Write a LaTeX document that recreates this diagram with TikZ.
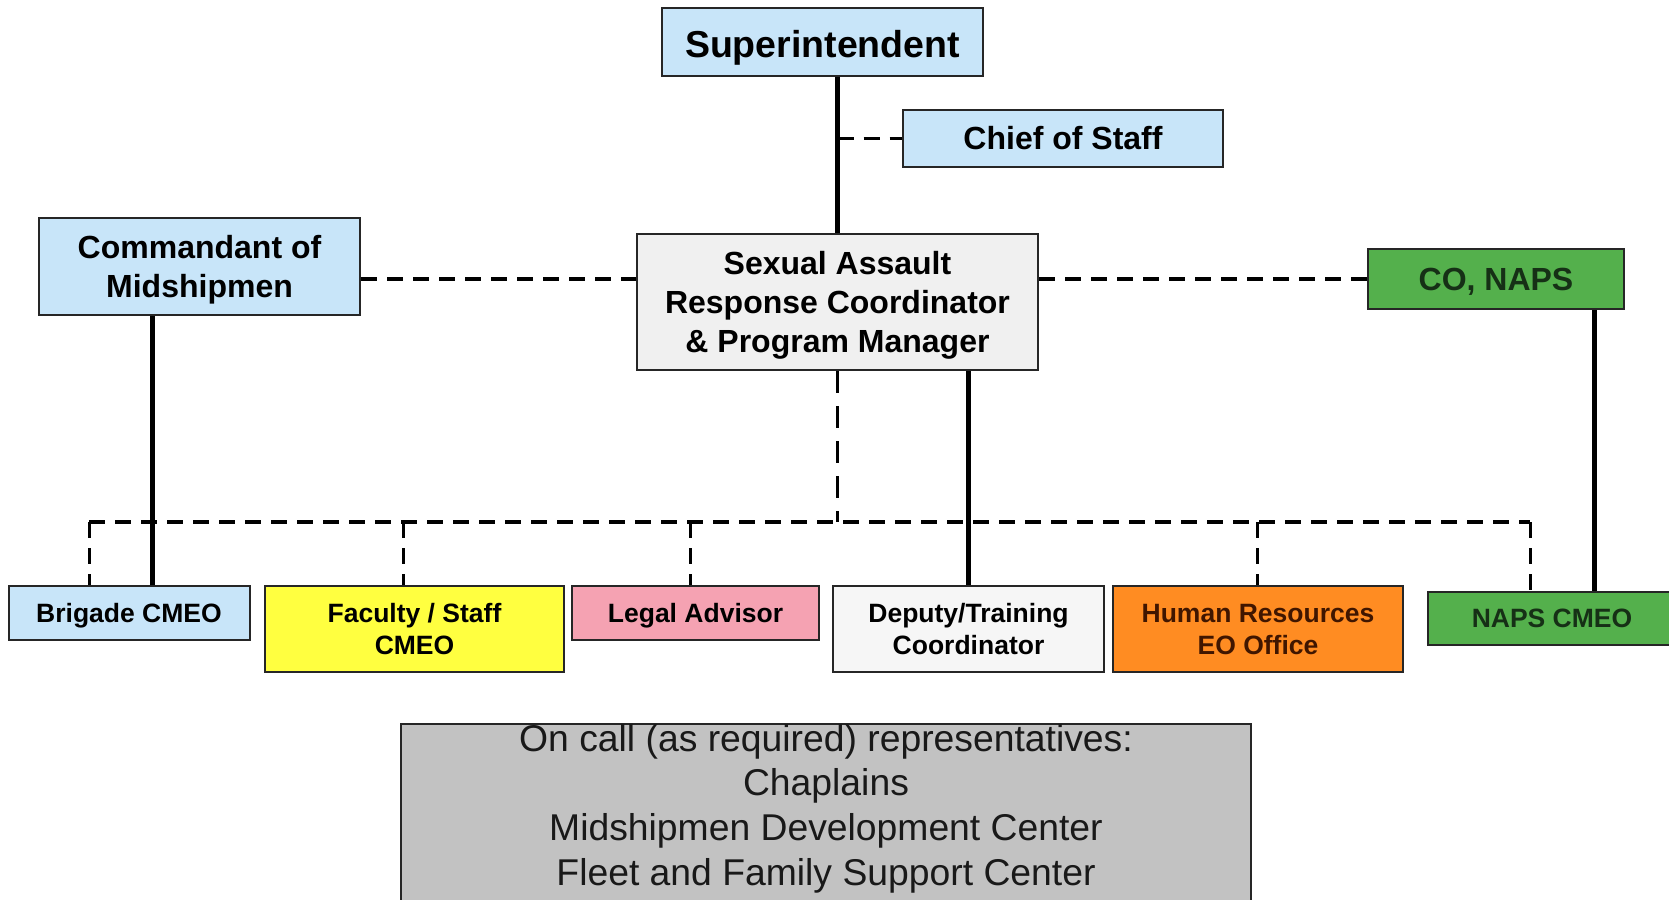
\documentclass[tikz,border=0pt]{standalone}
\usepackage{fontspec}
\setmainfont{Liberation Sans}
\usetikzlibrary{calc}

\definecolor{skyblue}{RGB}{200,229,249}
\definecolor{sarcgray}{RGB}{240,240,240}
\definecolor{lemon}{RGB}{255,255,64}
\definecolor{rose}{RGB}{245,162,178}
\definecolor{tangerine}{RGB}{255,140,34}
\definecolor{napsgreen}{RGB}{84,176,76}
\definecolor{oncallgray}{RGB}{194,194,194}
\definecolor{darkgreen}{RGB}{22,48,22}
\definecolor{darkbrown}{RGB}{64,22,0}

\begin{document}
\begin{tikzpicture}[x=1pt, y=-1pt,
  box/.style={draw=black!85, line width=2pt, align=center, inner sep=0pt},
  bigfont/.style={font=\bfseries\fontsize{32}{39}\selectfont, text depth=8.3pt, text height=31pt},
  smallfont/.style={font=\bfseries\fontsize{26.5}{32}\selectfont, text depth=6.9pt, text height=24.9pt},
  solidline/.style={line width=5pt},
  dashline/.style={line width=3.5pt, dash pattern=on 16pt off 10pt}]

\useasboundingbox (0,0) rectangle (1669,899);
\clip (0,0) rectangle (1669,899);

% top boxes
\node(super) at (822.5,42) [box, fill=skyblue, minimum width=321, minimum height=67,
  font=\bfseries\fontsize{37.5}{45}\selectfont, text depth=9.8pt, text height=40pt]{Superintendent};
\node(chief) at (1063,138.5) [box, bigfont, fill=skyblue, minimum width=320, minimum height=57]{Chief of Staff};
\node(comdt) at (199.5,266.5) [box, bigfont, text height=70pt, fill=skyblue, minimum width=321, minimum height=97]{Commandant of\\Midshipmen};
\node(sarc) at (837.5,302) [box, bigfont, text height=109pt, fill=sarcgray, minimum width=401, minimum height=136]{Sexual Assault\\Response Coordinator\\\& Program Manager};
\node(conaps) at (1496,279) [box, bigfont, fill=napsgreen, text=darkgreen, minimum width=256, minimum height=60]{CO, NAPS};

% bottom row
\node(brigade) at (129,613) [box, smallfont, fill=skyblue, minimum width=241, minimum height=54]{Brigade CMEO};
\node(faculty) at (414.5,629) [box, smallfont, text height=56.9pt, fill=lemon, minimum width=299, minimum height=86]{Faculty / Staff\\CMEO};
\node(legal) at (695.5,613) [box, smallfont, fill=rose, minimum width=247, minimum height=54]{Legal Advisor};
\node(deputy) at (968.5,629) [box, smallfont, text height=56.9pt, fill=sarcgray!60!white, minimum width=271, minimum height=86]{Deputy/Training\\Coordinator};
\node(hr) at (1258,629) [box, smallfont, text height=56.9pt, fill=tangerine, text=darkbrown, minimum width=290, minimum height=86]{Human Resources\\EO Office};
\node(napscmeo) at (1552,618.5) [box, smallfont, fill=napsgreen, text=darkgreen, minimum width=248, minimum height=53]{NAPS CMEO};

% on call
\node(oncall) at (826,723) [box, anchor=north, fill=oncallgray, minimum width=850, text=black!90,
  font=\fontsize{37.3}{44.7}\selectfont]{On call (as required) representatives:\\Chaplains\\Midshipmen Development Center\\Fleet and Family Support Center\rule[-40pt]{0pt}{1pt}};

% solid lines
\draw[solidline] (sarc.north |- super.south) -- (sarc.north);
\draw[solidline] ([xshift=-47.5]comdt.south) -- ([xshift=-47.5]comdt.south |- brigade.north);
\draw[solidline] (sarc.south -| deputy.north) -- (deputy.north);
\draw[solidline] ([xshift=98]conaps.south) -- ([xshift=98]conaps.south |- napscmeo.north);

% dashed lines
\draw[dashline] (sarc.north |- chief.west) -- (chief.west);
\draw[dashline] (comdt.east |- conaps.west) -- (sarc.west |- conaps.west);
\draw[dashline] (sarc.east |- conaps.west) -- (conaps.west);
\coordinate(bus) at (837.5,522);
\draw[dashline, line width=3pt, dash pattern=on 22pt off 13pt] (sarc.south) -- (bus);
\draw[dashline] ([xshift=-40]brigade.north |- bus) -- ([xshift=-22]napscmeo.north |- bus);
\foreach \n/\dx in {brigade/-40, faculty/-11.5, legal/-5.5, hr/-1, napscmeo/-22}
  \draw[dashline, line width=3pt] ([xshift=\dx]\n.north |- bus) -- ([xshift=\dx]\n.north);

\end{tikzpicture}
\end{document}
